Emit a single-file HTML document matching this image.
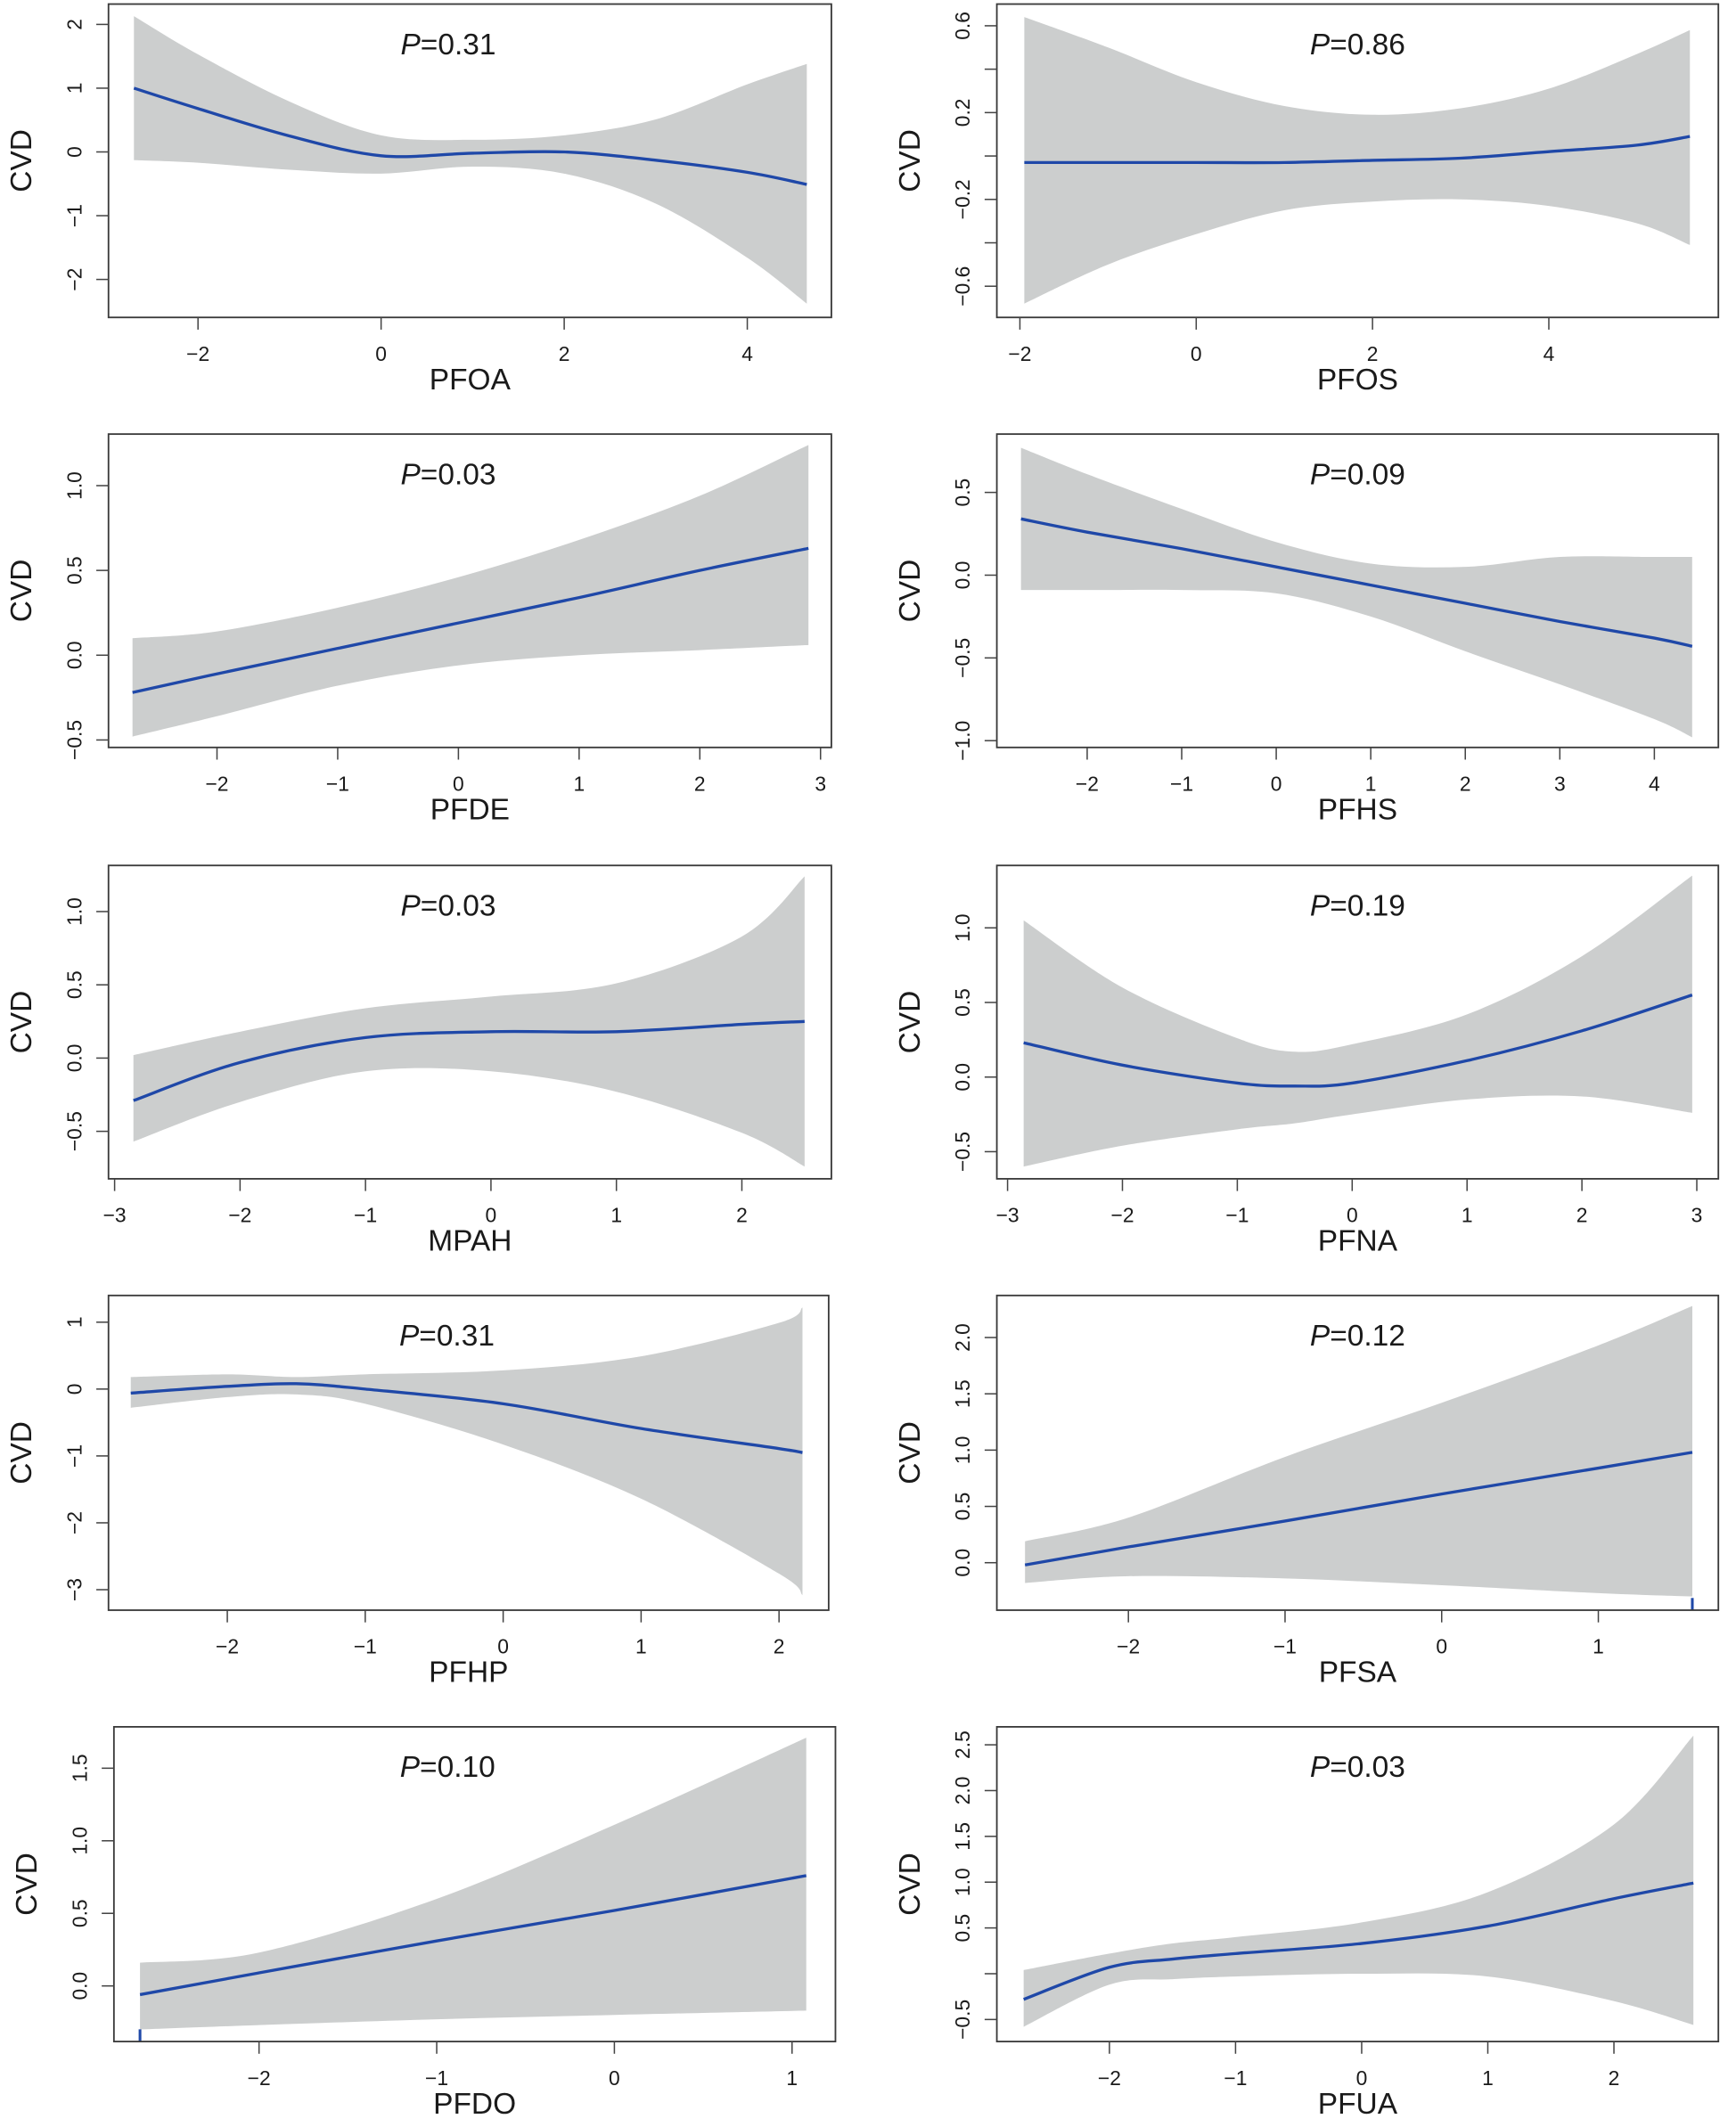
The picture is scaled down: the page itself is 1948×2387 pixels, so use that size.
<!DOCTYPE html>
<html><head><meta charset="utf-8"><title>Restricted cubic spline plots</title>
<style>
html,body{margin:0;padding:0;background:#fff;}
svg{display:block;}
text{font-family:"Liberation Sans",Arial,sans-serif;fill:#1a1a1a;}
</style></head>
<body>
<svg id="chart" width="1948" height="2387" viewBox="0 0 1280 1568" preserveAspectRatio="none" xmlns="http://www.w3.org/2000/svg"></svg>
<script>
// ---- data (data units) ----
const pfoaX=[-2.7,-2,-1,0,1,2,3,4,4.65];
const pfoaFit=[1.0,0.68,0.25,-0.06,-0.02,0,-0.13,-0.32,-0.51];
const pfoaHi=[2.13,1.53,0.79,0.26,0.19,0.26,0.51,1.06,1.38];
const pfoaLo=[-0.13,-0.17,-0.28,-0.34,-0.23,-0.34,-0.81,-1.66,-2.38];

const pfosX=[-1.95,-1,0,1,2,3,4,5,5.6];
const pfosFit=[-0.03,-0.03,-0.03,-0.03,-0.02,-0.01,0.02,0.05,0.09];
const pfosHi=[0.64,0.5,0.34,0.23,0.19,0.22,0.31,0.47,0.58];
const pfosLo=[-0.68,-0.5,-0.36,-0.25,-0.21,-0.2,-0.23,-0.31,-0.41];

const pfdeX=[-2.7,-2,-1,0,1,2,2.9];
const pfdeFit=[-0.22,-0.11,0.04,0.19,0.34,0.50,0.63];
const pfdeHi=[0.1,0.14,0.28,0.46,0.68,0.94,1.24];
const pfdeLo=[-0.48,-0.36,-0.18,-0.06,0.0,0.03,0.06];

const pfhsX=[-2.7,-2,-1,0,1,2,3,4,4.4];
const pfhsFit=[0.34,0.26,0.16,0.05,-0.06,-0.17,-0.28,-0.38,-0.43];
const pfhsHi=[0.77,0.61,0.40,0.2,0.07,0.05,0.11,0.11,0.11];
const pfhsLo=[-0.09,-0.09,-0.09,-0.11,-0.25,-0.46,-0.66,-0.87,-0.98];

const mpahX=[-2.85,-2,-1,0,1,2,2.5];
const mpahFit=[-0.29,-0.03,0.14,0.18,0.18,0.23,0.25];
const mpahHi=[0.02,0.18,0.34,0.42,0.51,0.83,1.24];
const mpahLo=[-0.57,-0.3,-0.09,-0.09,-0.23,-0.51,-0.74];

const pfnaX=[-2.86,-2,-1,-0.5,0,1,2,2.96];
const pfnaFit=[0.23,0.08,-0.04,-0.06,-0.04,0.11,0.31,0.55];
const pfnaHi=[1.05,0.6,0.26,0.17,0.22,0.42,0.81,1.35];
const pfnaLo=[-0.6,-0.46,-0.35,-0.31,-0.25,-0.15,-0.13,-0.24];

const pfhpX=[-2.7,-2,-1.5,-1,0,1,2,2.17];
const pfhpFit=[-0.06,0.04,0.08,0.0,-0.22,-0.59,-0.89,-0.95];
const pfhpHi=[0.18,0.22,0.18,0.22,0.28,0.49,0.99,1.22];
const pfhpLo=[-0.28,-0.12,-0.08,-0.22,-0.83,-1.64,-2.76,-3.08];

const pfsaX=[-2.66,-2,-1,0,1,1.6];
const pfsaFit=[-0.02,0.14,0.37,0.61,0.84,0.98];
const pfsaHi=[0.19,0.4,0.94,1.42,1.93,2.28];
const pfsaLo=[-0.18,-0.12,-0.14,-0.2,-0.27,-0.3];

const pfdoX=[-2.67,-2,-1,0,1.08];
const pfdoFit=[-0.06,0.09,0.31,0.52,0.76];
const pfdoHi=[0.16,0.23,0.6,1.11,1.71];
const pfdoLo=[-0.3,-0.27,-0.23,-0.2,-0.17];

const pfuaX=[-2.68,-2,-1.5,-1,0,1,2,2.63];
const pfuaFit=[-0.28,0.07,0.16,0.22,0.33,0.52,0.82,0.99];
const pfuaHi=[0.04,0.22,0.33,0.4,0.56,0.89,1.63,2.6];
const pfuaLo=[-0.58,-0.12,-0.06,-0.03,0,-0.03,-0.3,-0.56];

const xTicksPFOA=[-2,0,2,4], yTicksPFOA=[2,1,0,-1,-2], yLabPFOA=["2","1","0","−1","−2"];
const xTicksPFOS=[-2,0,2,4], yTicksPFOS=[0.6,0.4,0.2,0,-0.2,-0.4,-0.6], yLabPFOS=["0.6","","0.2","","−0.2","","−0.6"];
const xTicksPFDE=[-2,-1,0,1,2,3], yTicksPFDE=[1,0.5,0,-0.5], yLabPFDE=["1.0","0.5","0.0","−0.5"];
const xTicksPFHS=[-2,-1,0,1,2,3,4], yTicksPFHS=[0.5,0,-0.5,-1], yLabPFHS=["0.5","0.0","−0.5","−1.0"];
const xTicksMPAH=[-3,-2,-1,0,1,2], yTicksMPAH=[1,0.5,0,-0.5], yLabMPAH=["1.0","0.5","0.0","−0.5"];
const xTicksPFNA=[-3,-2,-1,0,1,2,3], yTicksPFNA=[1,0.5,0,-0.5], yLabPFNA=["1.0","0.5","0.0","−0.5"];
const xTicksPFHP=[-2,-1,0,1,2], yTicksPFHP=[1,0,-1,-2,-3], yLabPFHP=["1","0","−1","−2","−3"];
const xTicksPFSA=[-2,-1,0,1], yTicksPFSA=[2,1.5,1,0.5,0], yLabPFSA=["2.0","1.5","1.0","0.5","0.0"];
const xTicksPFDO=[-2,-1,0,1], yTicksPFDO=[1.5,1,0.5,0], yLabPFDO=["1.5","1.0","0.5","0.0"];
const xTicksPFUA=[-2,-1,0,1,2], yTicksPFUA=[2.5,2,1.5,1,0.5,0,-0.5], yLabPFUA=["2.5","2.0","1.5","1.0","0.5","","−0.5"];

const panels=[
 {id:"pfoa",name:"PFOA",p:"0.31",pdx:-16,box:[80,3,613,234],x0:281,xs:67.5,y0:112,ys:47,X:pfoaX,F:pfoaFit,H:pfoaHi,L:pfoaLo,xt:xTicksPFOA,yt:yTicksPFOA,yl:yLabPFOA},
 {id:"pfos",name:"PFOS",p:"0.86",pdx:0,box:[735,3,1267,234],x0:882,xs:65,y0:115,ys:160,X:pfosX,F:pfosFit,H:pfosHi,L:pfosLo,xt:xTicksPFOS,yt:yTicksPFOS,yl:yLabPFOS},
 {id:"pfde",name:"PFDE",p:"0.03",pdx:-16,box:[80,320,613,551],x0:338,xs:89,y0:483,ys:125,X:pfdeX,F:pfdeFit,H:pfdeHi,L:pfdeLo,xt:xTicksPFDE,yt:yTicksPFDE,yl:yLabPFDE},
 {id:"pfhs",name:"PFHS",p:"0.09",pdx:0,box:[735,320,1267,551],x0:941,xs:69.7,y0:424,ys:122,X:pfhsX,F:pfhsFit,H:pfhsHi,L:pfhsLo,xt:xTicksPFHS,yt:yTicksPFHS,yl:yLabPFHS},
 {id:"mpah",name:"MPAH",p:"0.03",pdx:-16,box:[80,638,613,869],x0:362,xs:92.5,y0:780,ys:108,X:mpahX,F:mpahFit,H:mpahHi,L:mpahLo,xt:xTicksMPAH,yt:yTicksMPAH,yl:yLabMPAH},
 {id:"pfna",name:"PFNA",p:"0.19",pdx:0,box:[735,638,1267,869],x0:997,xs:84.7,y0:794,ys:110,X:pfnaX,F:pfnaFit,H:pfnaHi,L:pfnaLo,xt:xTicksPFNA,yt:yTicksPFNA,yl:yLabPFNA},
 {id:"pfhp",name:"PFHP",p:"0.31",pdx:-16,box:[80,955,611,1187],x0:371,xs:101.7,y0:1024,ys:49.3,X:pfhpX,F:pfhpFit,H:pfhpHi,L:pfhpLo,xt:xTicksPFHP,yt:yTicksPFHP,yl:yLabPFHP},
 {id:"pfsa",name:"PFSA",p:"0.12",pdx:0,box:[735,955,1267,1187],x0:1063,xs:115.5,y0:1152,ys:83,X:pfsaX,F:pfsaFit,H:pfsaHi,L:pfsaLo,xt:xTicksPFSA,yt:yTicksPFSA,yl:yLabPFSA,rug:1.6},
 {id:"pfdo",name:"PFDO",p:"0.10",pdx:-20,box:[84,1273,616,1505],x0:453,xs:131,y0:1464,ys:107,X:pfdoX,F:pfdoFit,H:pfdoHi,L:pfdoLo,xt:xTicksPFDO,yt:yTicksPFDO,yl:yLabPFDO,rug:-2.67},
 {id:"pfua",name:"PFUA",p:"0.03",pdx:0,box:[735,1273,1267,1505],x0:1004,xs:93,y0:1455,ys:67.5,X:pfuaX,F:pfuaFit,H:pfuaHi,L:pfuaLo,xt:xTicksPFUA,yt:yTicksPFUA,yl:yLabPFUA}
];

const NS="http://www.w3.org/2000/svg";
const svg=document.getElementById("chart");
function mk(tag,attrs,parent){const e=document.createElementNS(NS,tag);for(const k in attrs)e.setAttribute(k,attrs[k]);(parent||svg).appendChild(e);return e;}
function spline(pts){
  let d="M"+pts[0][0].toFixed(2)+","+pts[0][1].toFixed(2);
  for(let i=0;i<pts.length-1;i++){
    const p0=pts[i-1]||pts[i],p1=pts[i],p2=pts[i+1],p3=pts[i+2]||p2;
    const c1=[p1[0]+(p2[0]-p0[0])/6,p1[1]+(p2[1]-p0[1])/6];
    const c2=[p2[0]-(p3[0]-p1[0])/6,p2[1]-(p3[1]-p1[1])/6];
    d+=" C"+c1[0].toFixed(2)+","+c1[1].toFixed(2)+" "+c2[0].toFixed(2)+","+c2[1].toFixed(2)+" "+p2[0].toFixed(2)+","+p2[1].toFixed(2);
  }
  return d;
}
function splineTail(pts){return spline(pts).replace(/^M/,"L");}

panels.forEach(P=>{
  const sx=v=>P.x0+v*P.xs, sy=v=>P.y0-v*P.ys;
  const [l,t,r,b]=P.box;
  const g=mk("g",{});
  
  
  const hi=P.X.map((x,i)=>[sx(x),sy(P.H[i])]);
  const lo=P.X.map((x,i)=>[sx(x),sy(P.L[i])]).reverse();
  const band=mk("path",{d:spline(hi)+" L"+lo[0][0]+","+lo[0][1]+" "+splineTail(lo)+" Z",fill:"#cccece",stroke:"none"},g);
  
  
  const line=mk("path",{d:spline(P.X.map((x,i)=>[sx(x),sy(P.F[i])])),fill:"none",stroke:"#1f48a8","stroke-width":2.2},g);
  
  
  if(P.rug!==undefined){
    const rg=mk("line",{x1:sx(P.rug),x2:sx(P.rug),y1:b-9,y2:b,stroke:"#1f48a8","stroke-width":2},g);
    
    
  }
  const box=mk("rect",{x:l,y:t,width:r-l,height:b-t,fill:"none",stroke:"#3a3a3a","stroke-width":1.2},g);
  
  
  P.xt.forEach(v=>{
    mk("line",{x1:sx(v),x2:sx(v),y1:b,y2:b+9,stroke:"#444","stroke-width":1},g);
    const tx=mk("text",{x:sx(v),y:b+32,"text-anchor":"middle","font-size":15},g);
    tx.textContent=(v<0?"−":"")+Math.abs(v);
    
    
  });
  P.yt.forEach((v,i)=>{
    mk("line",{x1:l-9,x2:l,y1:sy(v),y2:sy(v),stroke:"#444","stroke-width":1},g);
    if(P.yl[i]){
      const tx=mk("text",{x:l-20,y:sy(v),"text-anchor":"middle","font-size":15,transform:"rotate(-90 "+(l-20)+" "+sy(v)+")"},g);
      tx.textContent=P.yl[i];
      
      
    }
  });
  const cy=(t+b)/2, cx=l-57;
  const yt=mk("text",{x:cx,y:cy,"text-anchor":"middle","font-size":22,transform:"rotate(-90 "+cx+" "+cy+")"},g);
  yt.textContent="CVD";
  
  
  const xt=mk("text",{x:(l+r)/2,y:b+53,"text-anchor":"middle","font-size":22},g);
  xt.textContent=P.name;
  
  
  const pt=mk("text",{x:(l+r)/2+P.pdx,y:t+37,"text-anchor":"middle","font-size":22},g);
  pt.innerHTML='<tspan font-style="italic">P</tspan>=' + P.p;
  
  
});
</script>
</body></html>
